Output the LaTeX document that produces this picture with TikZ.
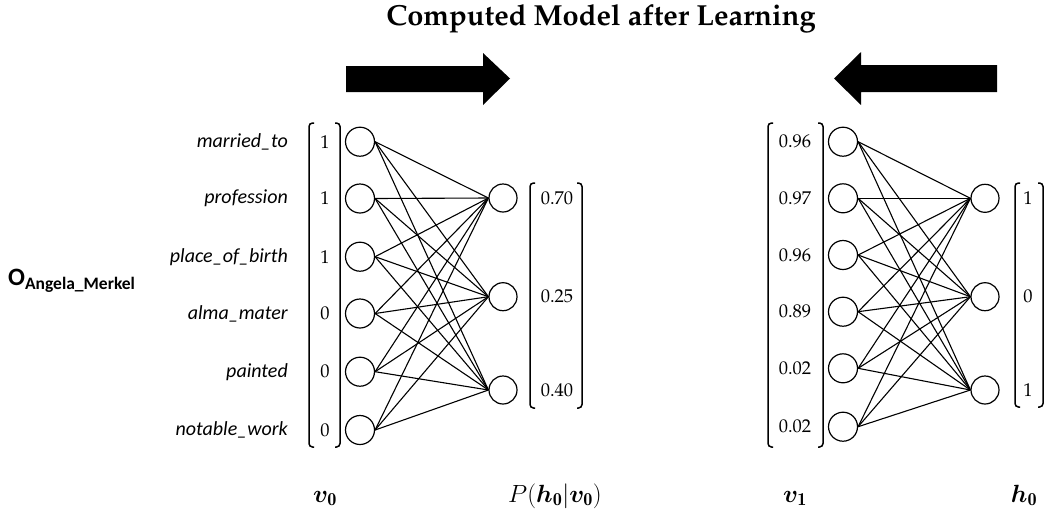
\documentclass[tikz,border=0pt]{standalone}
\usepackage[T1]{fontenc}
\usepackage{fontspec}
\usepackage{bm}
\newfontfamily\labfont{Carlito}
\newcommand\pplfont{\fontencoding{T1}\fontfamily{ppl}\selectfont}
\tikzset{
  vis/.style={circle,draw,line width=1.2pt,minimum size=29pt,inner sep=0pt},
  hid/.style={circle,draw,line width=1.2pt,minimum size=28pt,inner sep=0pt},
  wire/.style={line width=1.1pt},
  brk/.style={line width=1.5pt,rounded corners=3.5pt},
  val/.style={font=\pplfont\fontsize{18.5}{20}\selectfont,inner sep=0pt},
  lab/.style={font=\labfont\itshape\fontsize{20}{22}\selectfont,anchor=east,inner sep=0pt},
  mlab/.style={font=\fontsize{26}{28}\selectfont,inner sep=0pt},
  bigarrow/.style={fill=black}
}
\begin{document}
\begin{tikzpicture}[x=1pt,y=-1pt]
\useasboundingbox (0,0) rectangle (1051,512);

% title
\node[inner sep=0pt,anchor=base] (title) at (601,25) {\pplfont\bfseries\fontsize{29}{32}\selectfont Computed Model after Learning};

% direction arrows
\fill[bigarrow] (346,66) -- (483,66) -- (483,53) -- (510,78.5) -- (483,105) -- (483,92) -- (346,92) -- cycle;
\fill[bigarrow] (997,65) -- (861,65) -- (861,52) -- (834,78.5) -- (861,105) -- (861,92) -- (997,92) -- cycle;

% object name
\node[anchor=west,inner sep=0pt] (obj) at (8,281) {\labfont\bfseries\fontsize{25}{27}\selectfont O\raisebox{-4pt}{\fontsize{17.5}{19}\selectfont Angela\_Merkel}};

% ---------- left network: v0 -> P(h0|v0)
\foreach \n/\y/\t/\v in {1/141.7/married\_to/1,2/198.5/profession/1,3/256.7/place\_of\_birth/1,4/313.5/alma\_mater/0,5/371.7/painted/0,6/430/notable\_work/0}{
  \node[vis] (a\n) at (360,\y) {};
  \node[lab] (l\n) at (288,\y) {\t};
  \node[val] (x\n) at (325,\y) {\v};
}
\foreach \n/\y/\v in {1/198/0.70,2/296.7/0.25,3/390/0.40}{
  \node[hid] (b\n) at (503,\y) {};
  \node[val] (p\n) at (557,\y) {\v};
}
\foreach \i in {1,...,6}
  \foreach \j in {1,2,3}
    \draw[wire] (a\i.east) -- (b\j.west);

\draw[brk] (314,123) -- (309,123) -- (309,447) -- (314,447);
\draw[brk] (335,123) -- (340,123) -- (340,447) -- (335,447);
\draw[brk] (535,183) -- (530,183) -- (530,408) -- (535,408);
\draw[brk] (577,183) -- (582,183) -- (582,408) -- (577,408);

% ---------- right network: v1 <- h0
\foreach \n/\y/\v in {1/141.7/0.96,2/198.3/0.97,3/255/0.96,4/311.7/0.89,5/368.3/0.02,6/426.7/0.02}{
  \node[vis] (c\n) at (843,\y) {};
  \node[val] (y\n) at (795,\y) {\v};
}
\foreach \n/\y/\v in {1/198.3/1,2/296.7/0,3/390/1}{
  \node[hid] (d\n) at (985,\y) {};
  \node[val] (h\n) at (1028,\y) {\v};
}
\foreach \i in {1,...,6}
  \foreach \j in {1,2,3}
    \draw[wire] (c\i.east) -- (d\j.west);

\draw[brk] (773,123) -- (768,123) -- (768,447) -- (773,447);
\draw[brk] (818,123) -- (823,123) -- (823,447) -- (818,447);
\draw[brk] (1020,183) -- (1015,183) -- (1015,407) -- (1020,407);
\draw[brk] (1038,183) -- (1043,183) -- (1043,407) -- (1038,407);

% ---------- layer captions
\node[mlab,anchor=base] (cv0) at (325,502) {$\bm{v}_{\mathbf{0}}$};
\node[mlab,anchor=base] (cp)  at (555,502) {$P(\bm{h}_{\mathbf{0}}|\bm{v}_{\mathbf{0}})$};
\node[mlab,anchor=base] (cv1) at (795,502) {$\bm{v}_{\mathbf{1}}$};
\node[mlab,anchor=base] (ch0) at (1024,502) {$\bm{h}_{\mathbf{0}}$};
\end{tikzpicture}
\end{document}
